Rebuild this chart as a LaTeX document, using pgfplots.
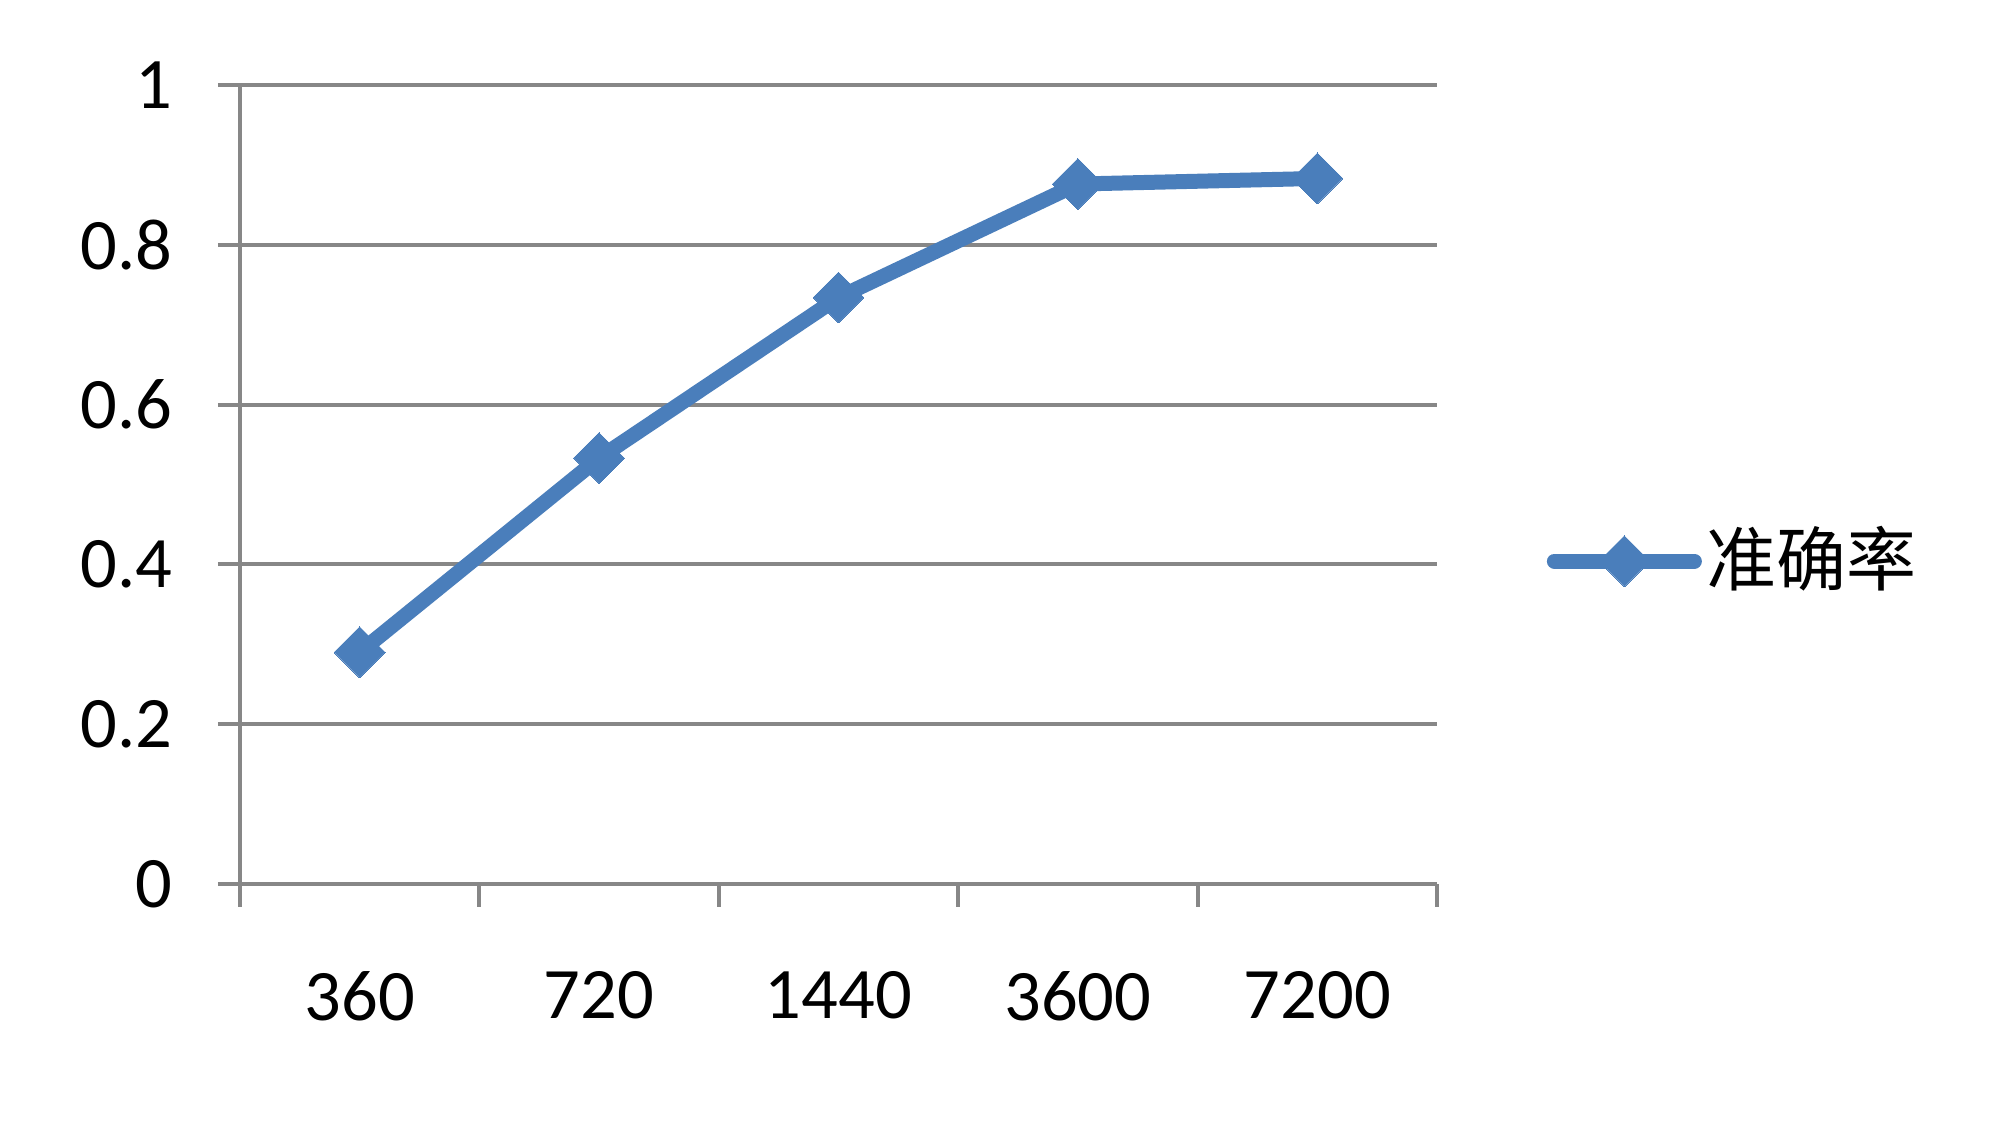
\documentclass[border=0pt]{standalone}
\usepackage{pgfplots}
\pgfplotsset{compat=1.18}
\usepackage{fontspec}
\setmainfont{Carlito}
\newfontfamily\cjk{Noto Sans CJK SC}
\definecolor{serieblue}{HTML}{4A7EBB}
\definecolor{gridgray}{HTML}{878787}

\begin{document}
\begin{tikzpicture}
\fontsize{14.5}{17}\selectfont
\path[use as bounding box] (0,0) rectangle (400pt,226.2pt);
\begin{axis}[
    at={(48pt,49.4pt)}, anchor=south west,
    scale only axis,
    width=239.4pt, height=159.8pt,
    xmin=-0.5, xmax=4.5,
    ymin=0, ymax=1,
    axis lines=left,
    axis line style={-, gridgray, line width=0.8pt},
    xtick={0,...,4},
    xticklabels={360,720,1440,3600,7200},
    minor xtick={-0.5,0.5,...,4.5},
    ytick={0,0.2,...,1},
    ymajorgrids,
    grid style={gridgray, line width=0.8pt},
    tick align=outside,
    major tick length=4.4pt,
    minor tick length=4.6pt,
    x tick style={draw=none},
    minor x tick style={draw=gridgray, line width=0.8pt},
    y tick style={gridgray, line width=0.8pt},
    /pgf/number format/assume math mode=true,
    yticklabel style={font=\fontsize{14.5}{17}\selectfont, xshift=-4.1pt},
    xticklabel style={font=\fontsize{14.5}{17}\selectfont, yshift=-8pt},
    legend style={draw=none, fill=none, at={(1.091,0.404)}, anchor=west,
        inner sep=0pt, nodes={inner xsep=1pt},
        font=\cjk\fontsize{14}{16}\selectfont},
    legend cell align=left,
    legend image code/.code={
        \draw[#1, line cap=round, mark=none] (0pt,0pt) -- (28pt,0pt);
        \draw[#1, only marks] plot coordinates {(14pt,0pt)};
    },
    clip=false,
]
\addplot[serieblue, line width=3pt, mark=square*,
    mark options={rotate=45, solid, fill=serieblue, line width=0pt},
    mark size=3.6pt]
    coordinates {(0,0.29) (1,0.533) (2,0.734) (3,0.876) (4,0.883)};
\addlegendentry{准确率}
\end{axis}
\end{tikzpicture}
\end{document}
